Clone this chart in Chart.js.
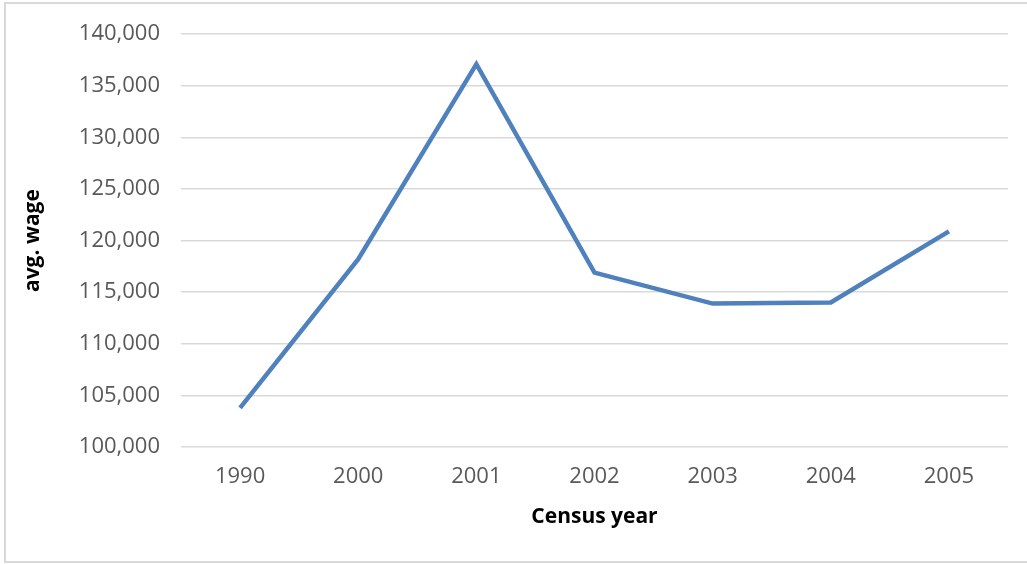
<!DOCTYPE html>
<html>
<head>
<meta charset="utf-8">
<script src="https://cdn.jsdelivr.net/npm/chart.js@4/dist/chart.umd.min.js"></script>
<style>
  html, body { margin: 0; padding: 0; background: #fff; overflow: hidden; }
  #frame { position: absolute; left: 4px; top: 2px; width: 1040px; height: 557px; border: 2px solid #d9d9d9; }
  #wrap { position: absolute; left: 0; top: 0; width: 1027px; height: 564px; }
</style>
</head>
<body>
<div id="frame"></div>
<div id="wrap"><canvas id="c" width="1027" height="564"></canvas></div>
<script>
const years = ['1990', '2000', '2001', '2002', '2003', '2004', '2005'];
const avgWage = [103800, 118200, 137100, 116900, 113900, 114000, 120900];
const yMin = 100000, yMax = 140000, yStep = 5000;
const xTitle = 'Census year';
const yTitle = 'avg. wage';

const tickFont = { family: 'Open Sans', size: 22 };
const titleFont = { family: 'Open Sans', size: 21, weight: 'bold' };

new Chart(document.getElementById('c'), {
  type: 'line',
  data: {
    labels: years,
    datasets: [{
      data: avgWage,
      borderColor: '#4f81bd',
      borderWidth: 4.5,
      pointRadius: 0,
      fill: false,
      tension: 0
    }]
  },
  options: {
    responsive: false,
    animation: false,
    devicePixelRatio: 1,
    layout: { padding: { top: 32, right: 19, left: 0, bottom: 0 } },
    plugins: { legend: { display: false }, tooltip: { enabled: false } },
    scales: {
      x: {
        offset: true,
        grid: { display: false, drawTicks: false },
        border: { display: false },
        ticks: { color: '#595959', font: tickFont, padding: 17, maxRotation: 0 },
        title: { display: true, text: xTitle, color: '#000', font: titleFont, padding: { top: 0, bottom: 34 } },
        afterFit: s => { s.height = 564 - 447; }
      },
      y: {
        min: yMin, max: yMax,
        grid: { color: '#d9d9d9', lineWidth: 1.5, drawTicks: false },
        border: { display: false },
        ticks: {
          stepSize: yStep, color: '#595959', font: tickFont, padding: 21,
          callback: v => v.toLocaleString('en-US')
        },
        title: { display: true, text: yTitle, color: '#000', font: titleFont, padding: { top: 20, bottom: 0 } },
        afterFit: s => { s.width = 181; }
      }
    }
  }
});
</script>
</body>
</html>
